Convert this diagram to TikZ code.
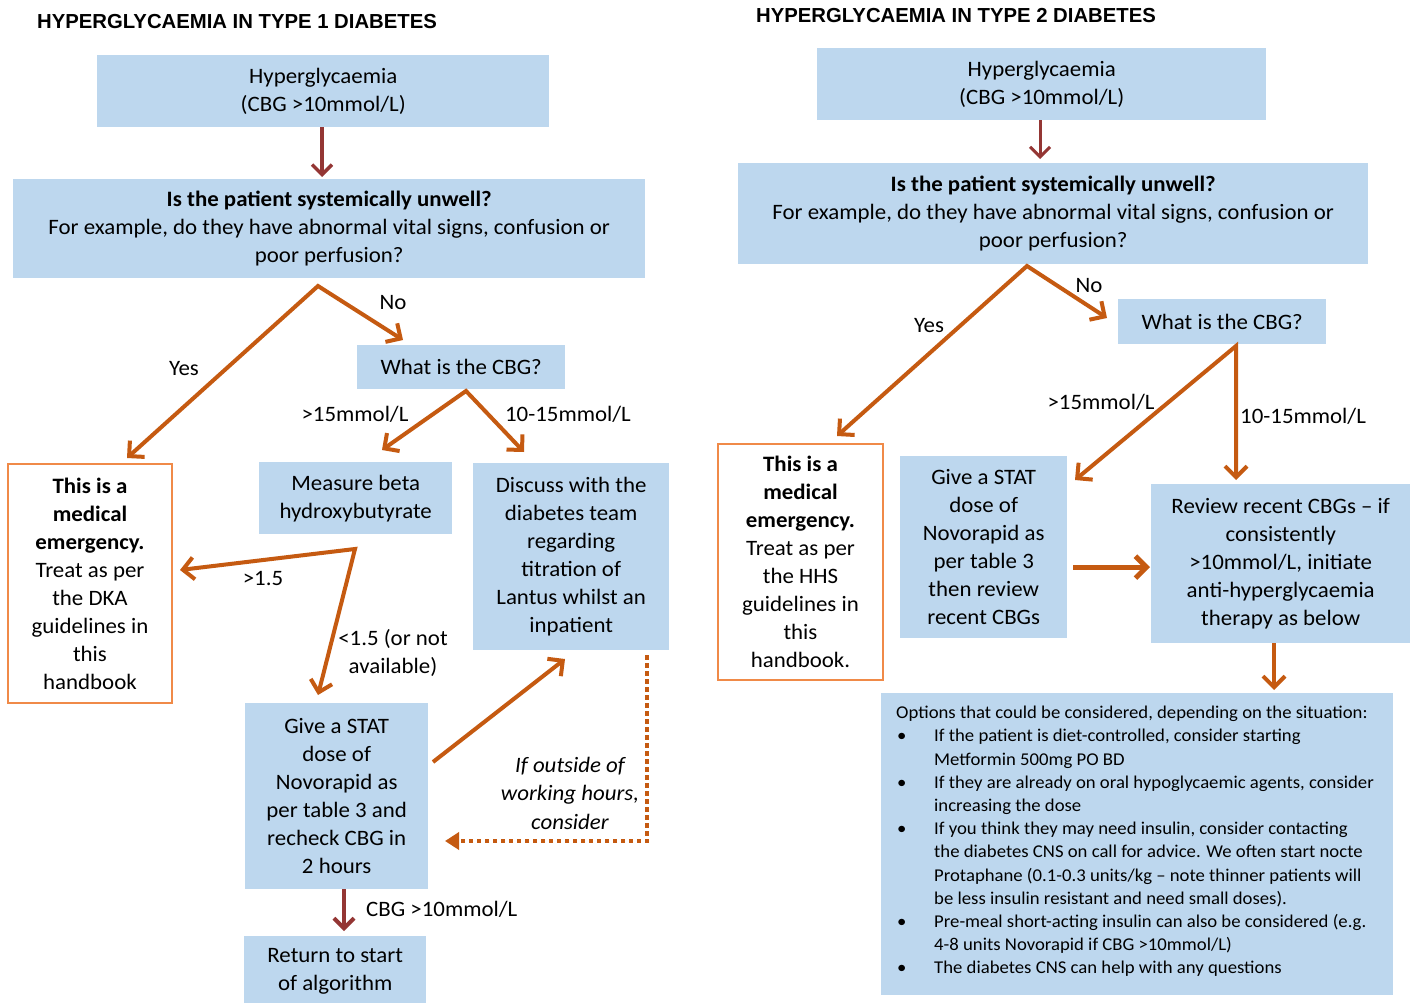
\documentclass[tikz,border=0pt]{standalone}
\usepackage{fontspec}
\setmainfont{Carlito}[FakeStretch=1.04]
\newfontfamily\titlefont{Liberation Sans}
\usetikzlibrary{arrows.meta,calc}
\definecolor{boxblue}{HTML}{BDD7EE}
\definecolor{arrorange}{HTML}{C55A11}
\definecolor{arrred}{HTML}{943634}
\definecolor{emborder}{HTML}{F08A48}
\begin{document}
\begin{tikzpicture}[x=1pt,y=-1pt,
  every node/.style={font=\fontsize{22}{28}\selectfont, inner sep=0pt},
  ttl/.style={font=\titlefont\bfseries\fontsize{20.3}{24}\selectfont, anchor=west},
  bx/.style={fill=boxblue, align=center, anchor=north west},
  em/.style={fill=white, draw=emborder, line width=2pt, align=center, anchor=north west},
  lbl/.style={align=center},
  oarr/.style={draw=arrorange, line width=4pt, line join=miter, miter limit=10, -{Straight Barb[length=11pt,width=22pt]}},
  oarr2/.style={draw=arrorange, line width=4pt, line join=miter, miter limit=10, {Straight Barb[length=11pt,width=22pt]}-{Straight Barb[length=11pt,width=22pt]}},
  rarr/.style={draw=arrred, line width=3.5pt, -{Straight Barb[length=10pt,width=20pt]}},
  darr/.style={draw=arrorange, line width=4pt, dash pattern=on 4.5pt off 3.5pt, -{Triangle[length=14pt,width=17pt]}}
]
\useasboundingbox (0,0) rectangle (1427,1003);
\fill[white] (0,0) rectangle (1427,1003);

% ---------------- Type 1 ----------------
\node[ttl] (t1) at (37,22) {HYPERGLYCAEMIA IN TYPE 1 DIABETES};
\node[bx, minimum width=452pt, minimum height=72pt] (a1) at (97,55) {Hyperglycaemia\\(CBG >10mmol/L)};
\node[bx, minimum width=632pt, minimum height=99pt] (a2) at (13,179) {\textbf{Is the patient systemically unwell?}\\For example, do they have abnormal vital signs, confusion or\\poor perfusion?};
\node[bx, minimum width=208pt, minimum height=44pt] (a3) at (357,345) {What is the CBG?};
\node[em, minimum width=164pt, minimum height=239pt] (a4) at (7,463) {\textbf{This is a}\\\textbf{medical}\\\textbf{emergency.}\\Treat as per\\the DKA\\guidelines in\\this\\handbook};
\node[bx, minimum width=193pt, minimum height=72pt] (a5) at (259,462) {Measure beta\\hydroxybutyrate};
\node[bx, minimum width=196pt, minimum height=187pt] (a6) at (473,463) {Discuss with the\\diabetes team\\regarding\\titration of\\Lantus whilst an\\inpatient};
\node[bx, minimum width=183pt, minimum height=186pt] (a7) at (245,703) {Give a STAT\\dose of\\Novorapid as\\per table 3 and\\recheck CBG in\\2 hours};
\node[bx, minimum width=182pt, minimum height=70pt] (a8) at (244,936) {Return to start\\of algorithm};

\draw[rarr] (a1.south -| 322,0) -- ($(a2.north -| 322,0)+(0,-2)$);
\coordinate (ap1) at (318,286);
\coordinate (yes1) at (127,458);
\coordinate (no1) at (403,340);
\draw[oarr2] (yes1) -- (ap1) -- (no1);
\node[lbl] (lyes1) at (184,369) {Yes};
\node[lbl] (lno1) at (393,303) {No};

\coordinate (ap2) at (466,391);
\coordinate (gt1) at (382,450);
\coordinate (mid1) at (524,452);
\draw[oarr2] (gt1) -- (ap2) -- (mid1);
\node[lbl] (l15a) at (355,414) {>15mmol/L};
\node[lbl] (l1015a) at (568,414) {10-15mmol/L};

\coordinate (ap3) at (355,549);
\coordinate (hi1) at (180,570);
\coordinate (lo1) at (318,695);
\draw[oarr2] (hi1) -- (ap3) -- (lo1);
\node[lbl] (lhi) at (263,579) {>1.5};
\node[lbl] (llo) at (393,653) {<1.5 (or not\\available)};

\coordinate (s1) at (433,762);
\coordinate (s2) at (565,659);
\draw[oarr] (s1) -- (s2);

\coordinate (d1) at (647,655);
\coordinate (d2) at (445,841);
\draw[darr] (d1) |- (d2);
\node[lbl, font=\itshape\fontsize{22}{28.5}\selectfont] (lout) at (570,793) {If outside of\\working hours,\\consider};

\draw[rarr, line width=4pt] (a7.south -| 344,0) -- ($(a8.north -| 344,0)+(0,-5)$);
\node[lbl, anchor=west] (lcbg) at (366,909) {CBG >10mmol/L};

% ---------------- Type 2 ----------------
\node[ttl] (t2) at (756,16) {HYPERGLYCAEMIA IN TYPE 2 DIABETES};
\node[bx, minimum width=449pt, minimum height=72pt] (b1) at (817,48) {Hyperglycaemia\\(CBG >10mmol/L)};
\node[bx, minimum width=630pt, minimum height=101pt] (b2) at (738,163) {\textbf{Is the patient systemically unwell?}\\For example, do they have abnormal vital signs, confusion or\\poor perfusion?};
\node[bx, minimum width=208pt, minimum height=45pt] (b3) at (1118,299) {What is the CBG?};
\node[em, minimum width=165pt, minimum height=236pt] (b4) at (717,443) {\textbf{This is a}\\\textbf{medical}\\\textbf{emergency.}\\Treat as per\\the HHS\\guidelines in\\this\\handbook.};
\node[bx, minimum width=167pt, minimum height=182pt] (b5) at (900,456) {Give a STAT\\dose of\\Novorapid as\\per table 3\\then review\\recent CBGs};
\node[bx, minimum width=259pt, minimum height=159pt] (b6) at (1151,484) {Review recent CBGs -- if\\consistently\\>10mmol/L, initiate\\anti-hyperglycaemia\\therapy as below};
\node[bx, minimum width=512pt, minimum height=302pt] (b7) at (881,693) {};
\node[anchor=north west, align=left, font=\fontsize{18}{23.2}\selectfont] (b7t) at (896,706) {%
Options that could be considered, depending on the situation:\\
\hspace*{1pt}\makebox[37pt][l]{\textbullet}If the patient is diet-controlled, consider starting\\
\hspace*{38pt}Metformin 500mg PO BD\\
\hspace*{1pt}\makebox[37pt][l]{\textbullet}If they are already on oral hypoglycaemic agents, consider\\
\hspace*{38pt}increasing the dose\\
\hspace*{1pt}\makebox[37pt][l]{\textbullet}If you think they may need insulin, consider contacting\\
\hspace*{38pt}the diabetes CNS on call for advice. We often start nocte\\
\hspace*{38pt}Protaphane (0.1-0.3 units/kg -- note thinner patients will\\
\hspace*{38pt}be less insulin resistant and need small doses).\\
\hspace*{1pt}\makebox[37pt][l]{\textbullet}Pre-meal short-acting insulin can also be considered (e.g.\\
\hspace*{38pt}4-8 units Novorapid if CBG >10mmol/L)\\
\hspace*{1pt}\makebox[37pt][l]{\textbullet}The diabetes CNS can help with any questions};

\draw[rarr, line width=3pt] (b1.south -| 1040,0) -- ($(b2.north -| 1040,0)+(0,-4)$);
\coordinate (bp1) at (1027,266);
\coordinate (yes2) at (837,436);
\coordinate (no2) at (1107,318);
\draw[oarr2] (yes2) -- (bp1) -- (no2);
\node[lbl] (lyes2) at (929,326) {Yes};
\node[lbl] (lno2) at (1089,286) {No};

\coordinate (bp2) at (1236,346);
\coordinate (gt2) at (1075,480);
\coordinate (mid2) at (1236,480);
\draw[oarr2] (gt2) -- (bp2) -- (mid2);
\node[lbl] (l15b) at (1101,402) {>15mmol/L};
\node[lbl, anchor=west] (l1015b) at (1240,416) {10-15mmol/L};

\draw[oarr, line width=5pt] ($(b5.east)+(6,20)$) -- ($(b6.west |- b5.east)+(-1,20)$);
\draw[oarr] (b6.south -| 1274,0) -- ($(b7.north -| 1274,0)+(0,-3)$);
\end{tikzpicture}
\end{document}
